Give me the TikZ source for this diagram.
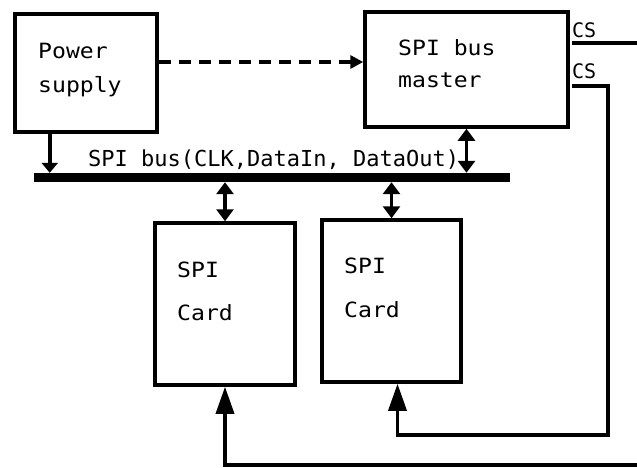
\documentclass[tikz,border=0pt]{standalone}
\usepackage{fontspec}
\setmainfont{DejaVu Sans Mono}[FakeStretch=1.1]
\newfontfamily\busfont{DejaVu Sans Mono}
\usetikzlibrary{arrows.meta}

\begin{document}
\begin{tikzpicture}[x=1pt,y=-1pt,
    box/.style={draw,line width=3.5pt,inner sep=0pt},
    txt/.style={anchor=base west,align=left,inner sep=0pt,font=\fontsize{21}{34}\selectfont},
    small/.style={anchor=base west,inner sep=0pt,font=\busfont\fontsize{20}{20}\selectfont},
    wire/.style={line width=3.5pt},
    dbl/.style={wire,{Triangle[length=12pt,width=17pt]}-{Triangle[length=12pt,width=17pt]}},
    up/.style={wire,-{Triangle[length=27pt,width=18pt]}}]
  \useasboundingbox (0,0) rectangle (637,467);

  \node[box,line width=4.5pt,minimum width=142pt,minimum height=118pt] (power) at (86,73) {};
  \node[box,minimum width=203pt,minimum height=115pt] (master) at (466.5,69.5) {};
  \node[box,minimum width=140pt,minimum height=162pt] (card1) at (225,304) {};
  \node[box,minimum width=139pt,minimum height=162pt] (card2) at (391.5,301) {};
  \node[fill,minimum width=476pt,minimum height=9pt,inner sep=0pt] (bus) at (272,177.5) {};

  \node[txt] (powertxt) at (38,92) {Power\\supply};
  \node[txt,font=\fontsize{21}{32}\selectfont] (mastertxt) at (398,87) {SPI bus\\master};
  \node[txt,font=\fontsize{21}{43}\selectfont] (card1txt) at (177,320) {SPI\\Card};
  \node[txt,font=\fontsize{21}{44}\selectfont] (card2txt) at (344,317) {SPI\\Card};
  \node[small,font=\busfont\fontsize{22}{22}\selectfont] (buslabel) at (88,166) {SPI bus(CLK,DataIn, DataOut)};
  \node[small] (cs1txt) at (572,37) {CS};
  \node[small] (cs2txt) at (572,78) {CS};

  \draw[wire,dash pattern=on 12pt off 8pt,-{Triangle[length=13pt,width=13pt]}] ([yshift=11pt]power.east) -- ([yshift=11pt]power.east -| master.west);
  \draw[wire,-{Triangle[length=10pt,width=16pt]}] ([xshift=37pt]power.south west) -- ([xshift=37pt]power.south west |- bus.north);
  \draw[dbl] (master.south) -- (master.south |- bus.north);
  \draw[dbl] (card1.north |- bus.south) -- (card1.north);
  \draw[dbl] (card2.north |- bus.south) -- (card2.north);

  \coordinate (edge) at (637,0);
  \coordinate (bend2) at (608,435);
  \coordinate (bend1) at (637,465);
  \draw[wire] ([xshift=2pt,yshift=26.5pt]master.east) -- ([yshift=26.5pt]master.east -| edge);
  \draw[up] ([xshift=2pt,yshift=-16.5pt]master.east) -| (bend2) -| ([xshift=6pt]card2.south);
  \draw[up] (bend1) -| (card1.south);
\end{tikzpicture}
\end{document}
